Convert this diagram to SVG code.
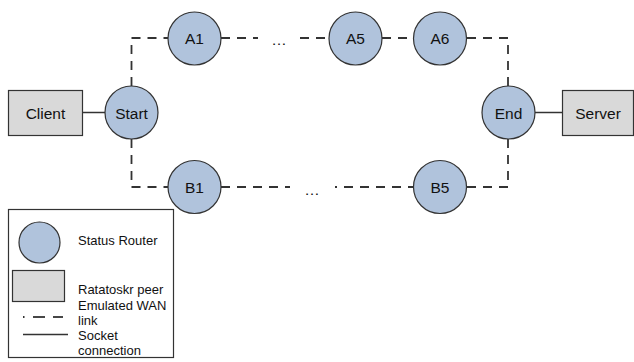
<svg xmlns="http://www.w3.org/2000/svg" width="634" height="362" viewBox="0 0 634 362">
<style>
.router{fill:#b0c3dc;stroke:#333;stroke-width:1.2}
.peer{fill:#d9d9d9;stroke:#333;stroke-width:1.2}
.wan{fill:none;stroke:#333;stroke-width:1.8;stroke-dasharray:9,7}
.sock{fill:none;stroke:#333;stroke-width:1.5}
.lbl{font-family:"Liberation Sans",Arial,sans-serif;font-size:15.5px;fill:#111;text-anchor:middle;dominant-baseline:central}
.leg{font-family:"Liberation Sans",Arial,sans-serif;font-size:13px;fill:#111}
</style>
<rect width="634" height="362" fill="#fff"/>
<g id="connectors">
<path class="wan" d="M131.5,86 V38 H168"/>
<path class="wan" d="M221,38 H258"/>
<path class="wan" d="M300,38 H329"/>
<path class="wan" d="M382,38 H414"/>
<path class="wan" d="M467,38 H508 V86"/>
<path class="wan" d="M131.5,139 V187 H168"/>
<path class="wan" d="M221,187 H290"/>
<line x1="335" y1="187" x2="337" y2="187" stroke="#333" stroke-width="1.8"/>
<path class="wan" d="M344,187 H414"/>
<path class="wan" d="M467,187 H508 V139"/>
<line class="sock" x1="82" y1="112.5" x2="105" y2="112.5"/>
<line class="sock" x1="535" y1="112.5" x2="562" y2="112.5"/>
</g>
<g id="dots-top"><text class="lbl" x="279" y="39">…</text></g>
<g id="dots-bottom"><text class="lbl" x="312" y="189">…</text></g>
<g id="client"><rect class="peer" x="8.5" y="90.5" width="74" height="45"/><text class="lbl" x="45.5" y="113">Client</text></g>
<g id="start"><circle class="router" cx="131.5" cy="112.5" r="26.5"/><text class="lbl" x="131.5" y="113">Start</text></g>
<g id="a1"><circle class="router" cx="194.5" cy="38.5" r="26.5"/><text class="lbl" x="194.5" y="38">A1</text></g>
<g id="a5"><circle class="router" cx="355.5" cy="38.5" r="26.5"/><text class="lbl" x="355.5" y="38">A5</text></g>
<g id="a6"><circle class="router" cx="440" cy="38.5" r="26.5"/><text class="lbl" x="440" y="38">A6</text></g>
<g id="end"><circle class="router" cx="508.5" cy="112.5" r="26.5"/><text class="lbl" x="508.5" y="113">End</text></g>
<g id="server"><rect class="peer" x="562.5" y="90.5" width="71" height="45"/><text class="lbl" x="598" y="113">Server</text></g>
<g id="b1"><circle class="router" cx="194.5" cy="187" r="26.5"/><text class="lbl" x="194.5" y="187">B1</text></g>
<g id="b5"><circle class="router" cx="440" cy="187" r="26.5"/><text class="lbl" x="440" y="187">B5</text></g>
<g id="legend">
<rect x="8.5" y="209.5" width="165" height="148" fill="#fff" stroke="#333" stroke-width="1.2"/>
<circle class="router" cx="39.5" cy="242.5" r="20.5"/>
<text class="leg" x="78" y="245">Status Router</text>
<rect class="peer" x="12.5" y="270.5" width="52" height="31"/>
<text class="leg" x="78" y="294">Ratatoskr peer</text>
<line x1="23" y1="317" x2="24.5" y2="317" stroke="#333" stroke-width="1.8"/>
<line x1="33" y1="317" x2="45" y2="317" stroke="#333" stroke-width="1.8"/>
<line x1="53" y1="317" x2="63" y2="317" stroke="#333" stroke-width="1.8"/>
<text class="leg" x="78" y="310">Emulated WAN</text>
<text class="leg" x="78" y="325">link</text>
<line class="sock" x1="23" y1="334.5" x2="68" y2="334.5"/>
<text class="leg" x="78" y="340">Socket</text>
<text class="leg" x="78" y="355">connection</text>
</g>
</svg>
